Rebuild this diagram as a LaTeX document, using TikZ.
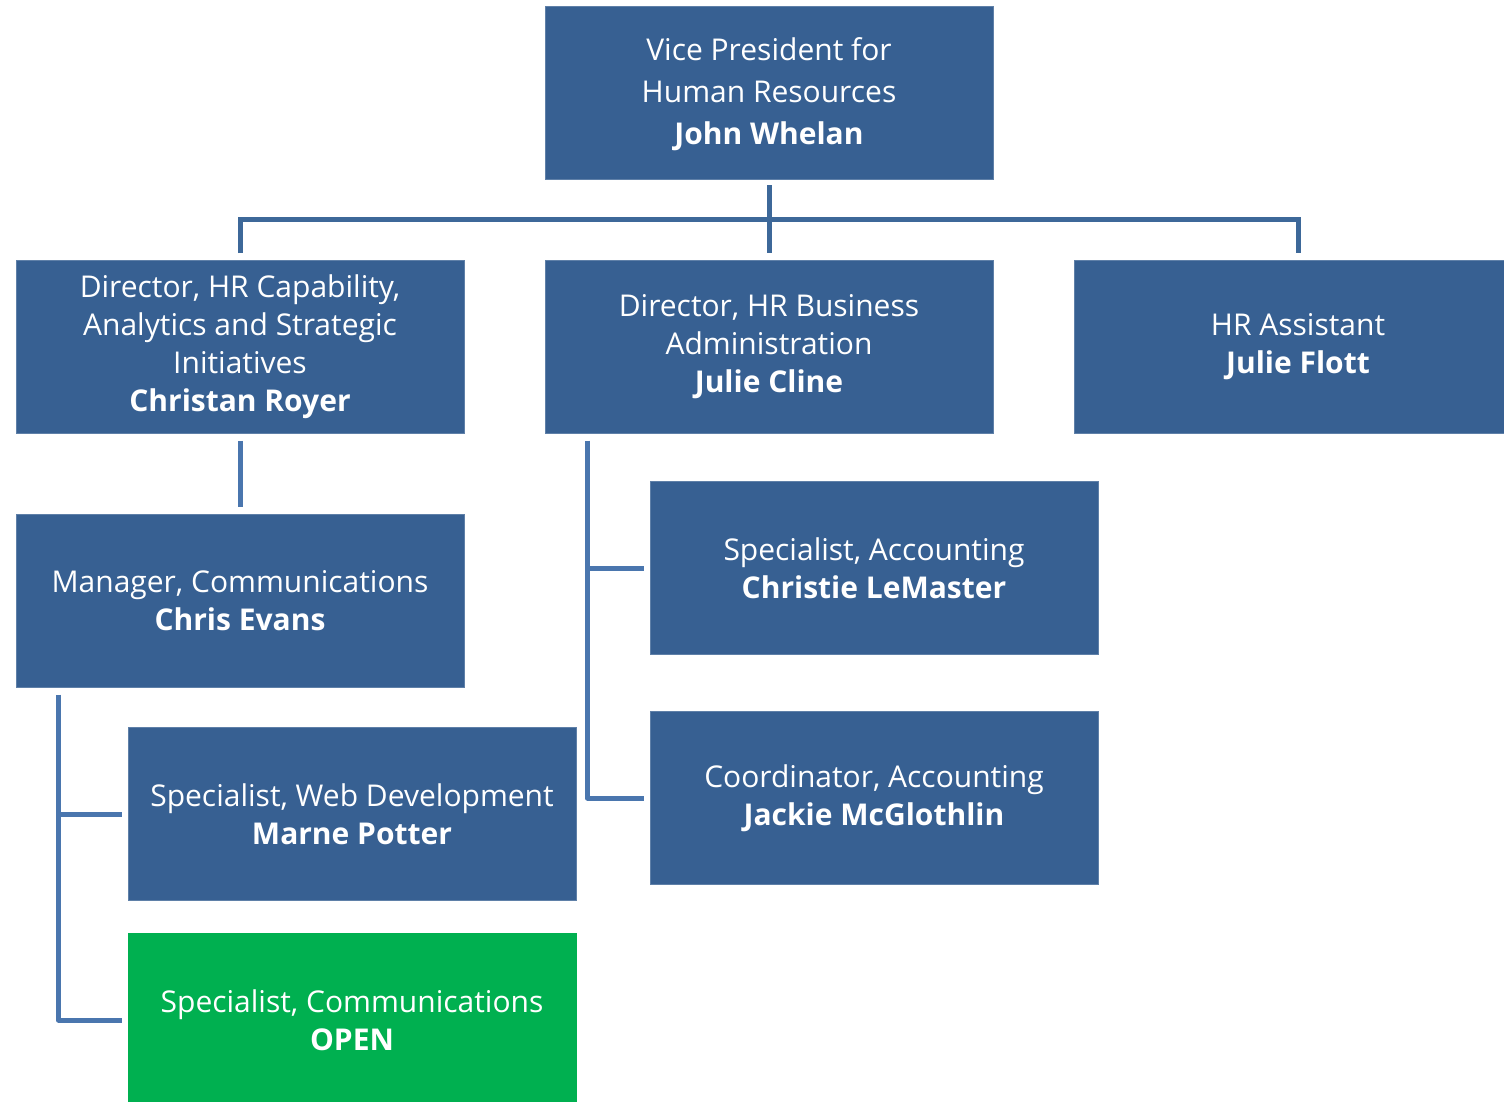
\documentclass[tikz,border=0pt]{standalone}
\usepackage{fontspec}
\setmainfont{Open Sans}
\usetikzlibrary{calc}
\definecolor{boxblue}{HTML}{376092}
\definecolor{boxgreen}{HTML}{00B050}
\definecolor{linetop}{HTML}{3D6899}
\definecolor{linelow}{HTML}{4A76AE}
\tikzset{
  orgbox/.style={fill=boxblue, draw=boxblue!80!white, line width=0.8pt, text=white, minimum width=448pt, minimum height=173pt, inner sep=0pt, align=center, font=\fontsize{30}{38}\selectfont},
  openbox/.style={orgbox, fill=boxgreen, draw=boxgreen},
  conntop/.style={draw=linetop, line width=5pt},
  connlow/.style={draw=linelow, line width=5pt, line join=round},
}
\begin{document}
\begin{tikzpicture}[x=1pt,y=-1pt]
\clip (0,0) rectangle (1504,1102);
\fill[white] (0,0) rectangle (1504,1102);
% boxes
\node[orgbox, font=\fontsize{30}{42}\selectfont] (vp) at (769,92.5) {\rule{0pt}{26pt}Vice President for\\Human Resources\\\textbf{John Whelan}};
\node[orgbox] (dircap) at (240,347) {Director, HR Capability,\\Analytics and Strategic\\Initiatives\\\textbf{Christan Royer}};
\node[orgbox] (dirbus) at (769,347) {Director, HR Business\\Administration\\\textbf{Julie Cline}};
\node[orgbox] (hrasst) at (1298,347) {HR Assistant\\\textbf{Julie Flott}};
\node[orgbox] (mgr) at (240,601) {Manager, Communications\\\textbf{Chris Evans}};
\node[orgbox] (specweb) at (352,814) {Specialist, Web Development\\\textbf{Marne Potter}};
\node[openbox] (speccom) at (352,1020) {Specialist, Communications\\\textbf{OPEN}};
\node[orgbox] (specacc) at (874,568) {Specialist, Accounting\\\textbf{Christie LeMaster}};
\node[orgbox] (coordacc) at (874,798) {Coordinator, Accounting\\\textbf{Jackie McGlothlin}};
% connectors top
\coordinate (bus) at ($(vp.south)!0.5!(dirbus.north)$);
\draw[conntop, shorten <=6pt, shorten >=7pt] (vp.south) -- (dirbus.north);
\draw[conntop] ([yshift=7pt]dircap.north) |- (bus) -| ([yshift=7pt]hrasst.north);
% capability to manager
\draw[connlow, shorten <=7pt, shorten >=7pt] (dircap.south) -- (mgr.north);
% manager to specialists
\draw[connlow] ([xshift=43pt,yshift=-7pt]mgr.south west) |- ([xshift=-6pt]specweb.west);
\draw[connlow] ([xshift=43pt,yshift=-7pt]mgr.south west) |- ([xshift=-6pt]speccom.west);
% business to accounting
\draw[connlow] ([xshift=43pt,yshift=-7pt]dirbus.south west) |- ([xshift=-6pt]specacc.west);
\draw[connlow] ([xshift=43pt,yshift=-7pt]dirbus.south west) |- ([xshift=-6pt]coordacc.west);
\end{tikzpicture}
\end{document}
